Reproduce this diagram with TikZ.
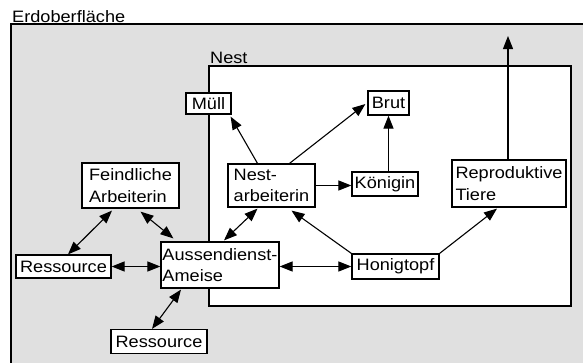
\documentclass[tikz,border=0pt]{standalone}
\usepackage{fontspec}
\setmainfont{Liberation Sans}[FakeStretch=1.1]
\usetikzlibrary{arrows.meta,calc}
\definecolor{ground}{RGB}{224,224,224}
\begin{document}
\begin{tikzpicture}[x=1pt,y=-1pt,
  every node/.style={font=\fontsize{16.5}{21.5}\selectfont},
  box/.style={draw, fill=white, line width=1.2pt, inner sep=1.5pt, align=left},
  link/.style={line width=1.1pt, -{Triangle[length=13pt,width=10pt]}},
  both/.style={line width=1.1pt, {Triangle[length=13pt,width=10pt]}-{Triangle[length=13pt,width=10pt]}}]
\path[use as bounding box, clip] (0,0) rectangle (583,362);
\fill[white] (0,0) rectangle (583,362);

% ground surface (runs on beyond the right and bottom edges)
\draw[fill=ground, line width=1.2pt] (11,24) rectangle (600,380);
\node[anchor=base west, inner sep=0] (surface) at (12,22) {Erdoberfläche};

% nest area
\node[draw, fill=white, line width=1.2pt, inner sep=0,
      minimum width=362pt, minimum height=240pt] (nest) at (390,186) {};
\node[anchor=base west, inner sep=0] (nestlabel) at (210,63) {Nest};

% boxes
\node[box, minimum width=45pt, minimum height=21pt] (muell) at (208.5,103.5) {Müll};
\node[box, minimum width=41pt, minimum height=24pt] (brut) at (388.5,103) {Brut};
\node[box, minimum width=66pt, minimum height=24pt] (koenigin) at (385,184) {Königin};
\node[box, minimum width=87pt, minimum height=43pt] (na) at (271.5,185.5) {Nest-\\arbeiterin};
\node[box, minimum width=114pt, minimum height=47pt] (repro) at (509,183.5) {Reproduktive\\Tiere};
\node[box, minimum width=87pt, minimum height=25pt] (honig) at (395.5,266.5) {Honigtopf};
\node[box, minimum width=116pt, minimum height=46pt] (aussen) at (220,265) {Aussendienst-\\Ameise};
\node[box, minimum width=97pt, minimum height=45pt] (feind) at (130.5,185.5) {Feindliche\\Arbeiterin};
\node[box, minimum width=95pt, minimum height=23pt] (res1) at (63.5,266.5) {Ressource};
\node[box, minimum width=96pt, minimum height=24pt] (res2) at (159,341.5) {Ressource};

% connectors
\coordinate (exit) at (508,36);
\draw[link] ($(na.north)+(-14,0)$) -- ($(muell.south east)+(-1,2)$);
\draw[link] ($(na.north)+(18,0)$) -- ($(brut.west)+(-2,1)$);
\draw[link] (koenigin.north -| brut.south) -- (brut.south);
\draw[link] (na.east) -- (na.east -| koenigin.west);
\draw[link] (repro.north -| exit) -- (exit);
\draw[link] (honig.north west) -- ($(na.south)+(20,3)$);
\draw[link] (honig.north east) -- ($(repro.south)+(-12,1)$);
\draw[both] (honig.west -| aussen.east) -- (honig.west);
\draw[both] ($(aussen.north)+(4,-1)$) -- ($(na.south)+(-14,1)$);
\draw[both] ($(aussen.north west)+(13,-3)$) -- ($(feind.south)+(10,3)$);
\draw[both] ($(feind.south)+(-18.5,2)$) -- ($(res1.north)+(4.5,0)$);
\draw[both] (res1.east) -- (res1.east -| aussen.west);
\draw[both] ($(aussen.south)+(-39,1)$) -- ($(res2.north)+(-7,0)$);
\end{tikzpicture}
\end{document}
